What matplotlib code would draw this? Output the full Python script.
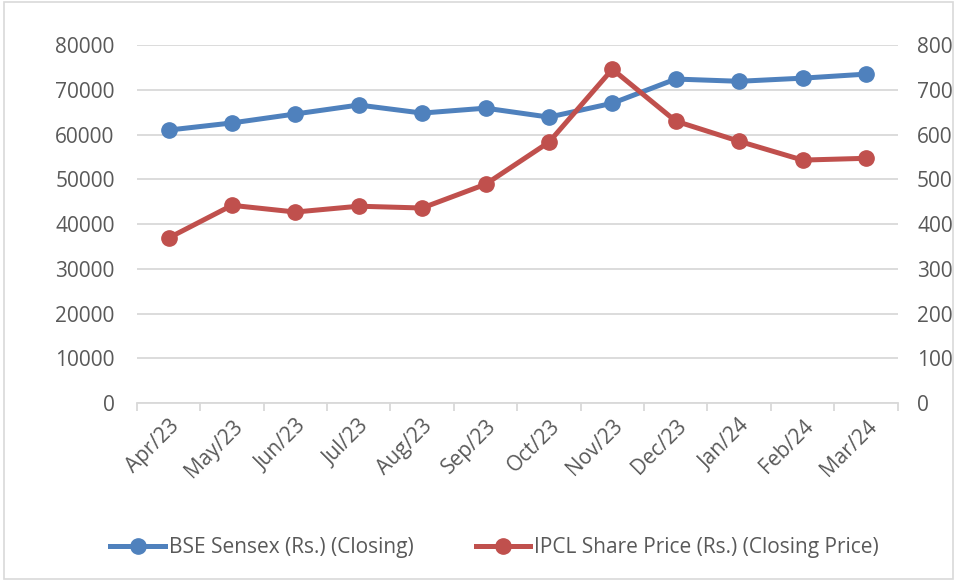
import matplotlib.pyplot as plt
import numpy as np

# ----------------------------
# Daten
# ----------------------------
months = ["Apr/23", "May/23", "Jun/23", "Jul/23", "Aug/23", "Sep/23",
          "Oct/23", "Nov/23", "Dec/23", "Jan/24", "Feb/24", "Mar/24"]
sensex = [61000, 62600, 64600, 66600, 64800, 65900,
          63900, 67000, 72400, 71900, 72600, 73500]
ipcl = [369, 442, 427, 440, 436, 489, 583, 746, 630, 585, 543, 547]

BLUE = "#4f81bd"
RED = "#c0504d"
GRAY = "#595959"
FS = 15

plt.rcParams["font.family"] = ["Open Sans", "DejaVu Sans"]

fig = plt.figure(figsize=(9.57, 5.81), dpi=100)
ax = fig.add_axes([0.143, 0.306, 0.795, 0.6165])
ax2 = ax.twinx()

x = np.arange(len(months))
l1, = ax.plot(x, sensex, color=BLUE, lw=3.6, marker="o", ms=11,
              label="BSE Sensex (Rs.) (Closing)", zorder=3)
l2, = ax2.plot(x, ipcl, color=RED, lw=3.6, marker="o", ms=11,
               label="IPCL Share Price (Rs.) (Closing Price)", zorder=3)

ax.set_xlim(-0.5, len(months) - 0.5)
ax.set_ylim(0, 80000)
ax2.set_ylim(0, 800)
ax.set_yticks(np.arange(0, 80001, 10000))
ax2.set_yticks(np.arange(0, 801, 100))

ax.grid(axis="y", color="#d9d9d9", lw=1.3)
ax.set_axisbelow(True)

# Kategorien: Labels in der Mitte, Striche an den Grenzen
ax.set_xticks(x)
ax.set_xticklabels(months, rotation=45, ha="right", rotation_mode="anchor")
ax.set_xticks(np.arange(-0.5, len(months), 1), minor=True)
ax.tick_params(axis="x", which="major", length=0, pad=9, labelsize=FS, colors=GRAY)
ax.tick_params(axis="x", which="minor", length=6, color="#d9d9d9", width=1.3)
ax.tick_params(axis="y", length=0, labelsize=FS, colors=GRAY, pad=16)
ax2.tick_params(axis="y", length=0, labelsize=FS, colors=GRAY, pad=14)

for a in (ax, ax2):
    for s in ["top", "left", "right"]:
        a.spines[s].set_visible(False)
ax.spines["bottom"].set_color("#d9d9d9")
ax.spines["bottom"].set_linewidth(1.3)
ax2.spines["bottom"].set_visible(False)

fig.legend(handles=[l1, l2], loc="center", bbox_to_anchor=(0.517, 0.057),
           ncol=2, frameon=False, fontsize=FS, labelcolor=GRAY,
           handlelength=2.6, columnspacing=3.0, handletextpad=0.2)

# Rahmen
fig.patches.append(plt.Rectangle((0.004, 0.003), 0.992, 0.994, transform=fig.transFigure,
                                 fill=False, edgecolor="#d9d9d9", lw=1.2))

plt.savefig("out.png", dpi=100)
plt.close()
